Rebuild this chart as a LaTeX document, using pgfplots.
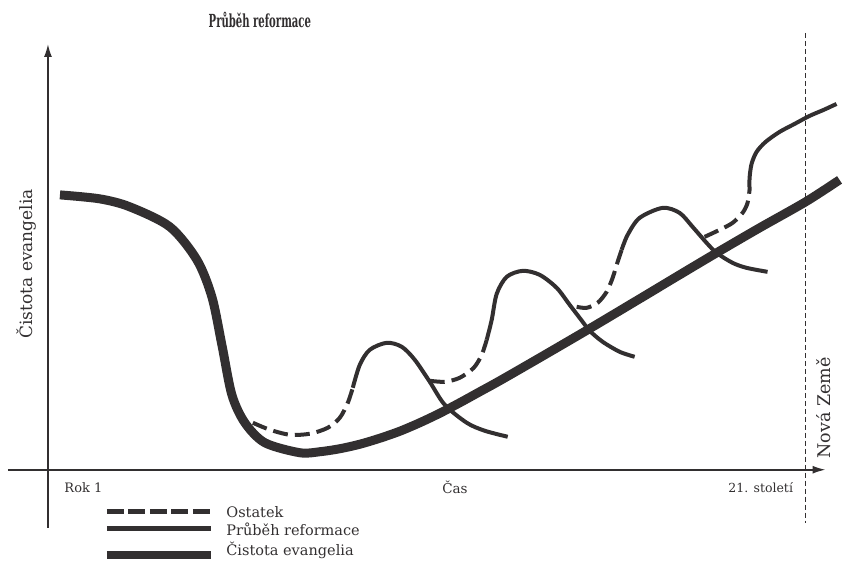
\documentclass[border=0pt]{standalone}
\usepackage{fontspec}
\setmainfont{DejaVu Serif}
\usepackage{graphicx}
\usepackage{pgfplots}
\pgfplotsset{compat=1.18}
\usetikzlibrary{arrows.meta}
\definecolor{ink}{RGB}{50,47,48}
\begin{document}
\begin{tikzpicture}
\begin{axis}[
  hide axis, scale only axis, width=844pt, height=562pt,
  xmin=0, xmax=844, ymin=0, ymax=562, y dir=reverse, clip=false,
  every axis plot/.append style={ink, line join=round},
]
\addplot[draw=none] coordinates {(0,0) (844,562)};
% axes
\addplot[line width=1.6pt, -{Latex[length=13pt,width=8pt]}] coordinates {(48,528) (48,44)};
\addplot[line width=1.6pt, -{Latex[length=13pt,width=8pt]}] coordinates {(8,470) (826,470)};
\addplot[line width=1.1pt, dash pattern=on 5pt off 3pt] coordinates {(806,33) (806,523)};
% purity of the gospel (thick)
\addplot[line width=9pt, smooth] coordinates {
 (60,195) (100,199) (130,207) (170,227) (197,260) (212,297) (222,345) (232,395)
 (245,423) (265,443) (300,453) (320,452) (340,449) (360,444.5) (380,438.5) (400,431.5)
 (420,423) (440,413.5) (460,403) (480,392) (500,381) (540,358) (588,330) (640,299)
 (680,275) (717,253) (760,228) (806,202) (840,180)};
% wave 1
\addplot[line width=4pt, smooth, dash pattern=on 15pt off 7pt] coordinates {
 (253,423) (270,430) (290,435) (310,434) (328,428) (340,418) (348,403) (353,388)};
\addplot[line width=4pt, smooth] coordinates {
 (353,388) (360,365) (370,350) (387,343) (402,347) (415,360) (430,382) (445,405)
 (467,423) (485,431) (508,437)};
% wave 2
\addplot[line width=4pt, smooth, dash pattern=on 15pt off 7pt] coordinates {
 (430,381) (445,382) (460,378) (474,368) (482,355) (487,340)};
\addplot[line width=4pt, smooth] coordinates {
 (487,340) (492,320) (497,294) (507,277) (523,271) (540,275) (557,288) (570,305)
 (583,322) (590,331) (603,342) (620,352) (635,357)};
% wave 3
\addplot[line width=4pt, smooth, dash pattern=on 15pt off 7pt] coordinates {
 (577,307) (587,308) (598,303) (607,292) (613,278) (618,262) (622,250)};
\addplot[line width=4pt, smooth] coordinates {
 (622,250) (628,235) (640,218) (663,208) (680,213) (693,227) (707,243) (717,253)
 (733,263) (747,268) (768,272)};
% wave 4
\addplot[line width=4pt, smooth, dash pattern=on 15pt off 7pt] coordinates {
 (705,237) (720,230) (733,223) (743,213) (748,203) (750,190)};
\addplot[line width=4pt, smooth] coordinates {
 (750,190) (750,178) (752,164) (757,152) (766,142) (780,132) (795,124) (810,116) (824,110) (837,104)};
% legend
\addplot[line width=4.5pt, dash pattern=on 17pt off 4.5pt] coordinates {(107,512) (211,512)};
\addplot[line width=4.5pt] coordinates {(107,529) (211,529)};
\addplot[line width=8pt] coordinates {(107,555) (211,555)};
\node[anchor=west, text=ink, font=\fontsize{14.5}{17}\selectfont] at (axis cs:223,512) {Ostatek};
\node[anchor=west, text=ink, font=\fontsize{14.5}{17}\selectfont] at (axis cs:223,530) {Průběh reformace};
\node[anchor=west, text=ink, font=\fontsize{14.5}{17}\selectfont] at (axis cs:223,551) {Čistota evangelia};
% axis texts
\node[anchor=west, text=ink, font=\fontsize{13}{15}\selectfont] at (axis cs:61,488) {Rok 1};
\node[anchor=west, text=ink, font=\fontsize{13.5}{15}\selectfont] at (axis cs:439,488) {Čas};
\node[anchor=east, text=ink, font=\fontsize{12.5}{15}\selectfont] at (axis cs:797,488) {21. století};
\node[rotate=90, text=ink, font=\fontsize{17}{20}\selectfont] at (axis cs:27,264) {Čistota evangelia};
\node[rotate=90, text=ink, font=\fontsize{17.5}{20}\selectfont] at (axis cs:824,408) {Nová Země};
\node[text=ink] at (axis cs:260,20) {\scalebox{0.56}[1]{\fontsize{18}{21}\selectfont\bfseries Průběh reformace}};
\end{axis}
\end{tikzpicture}
\end{document}
